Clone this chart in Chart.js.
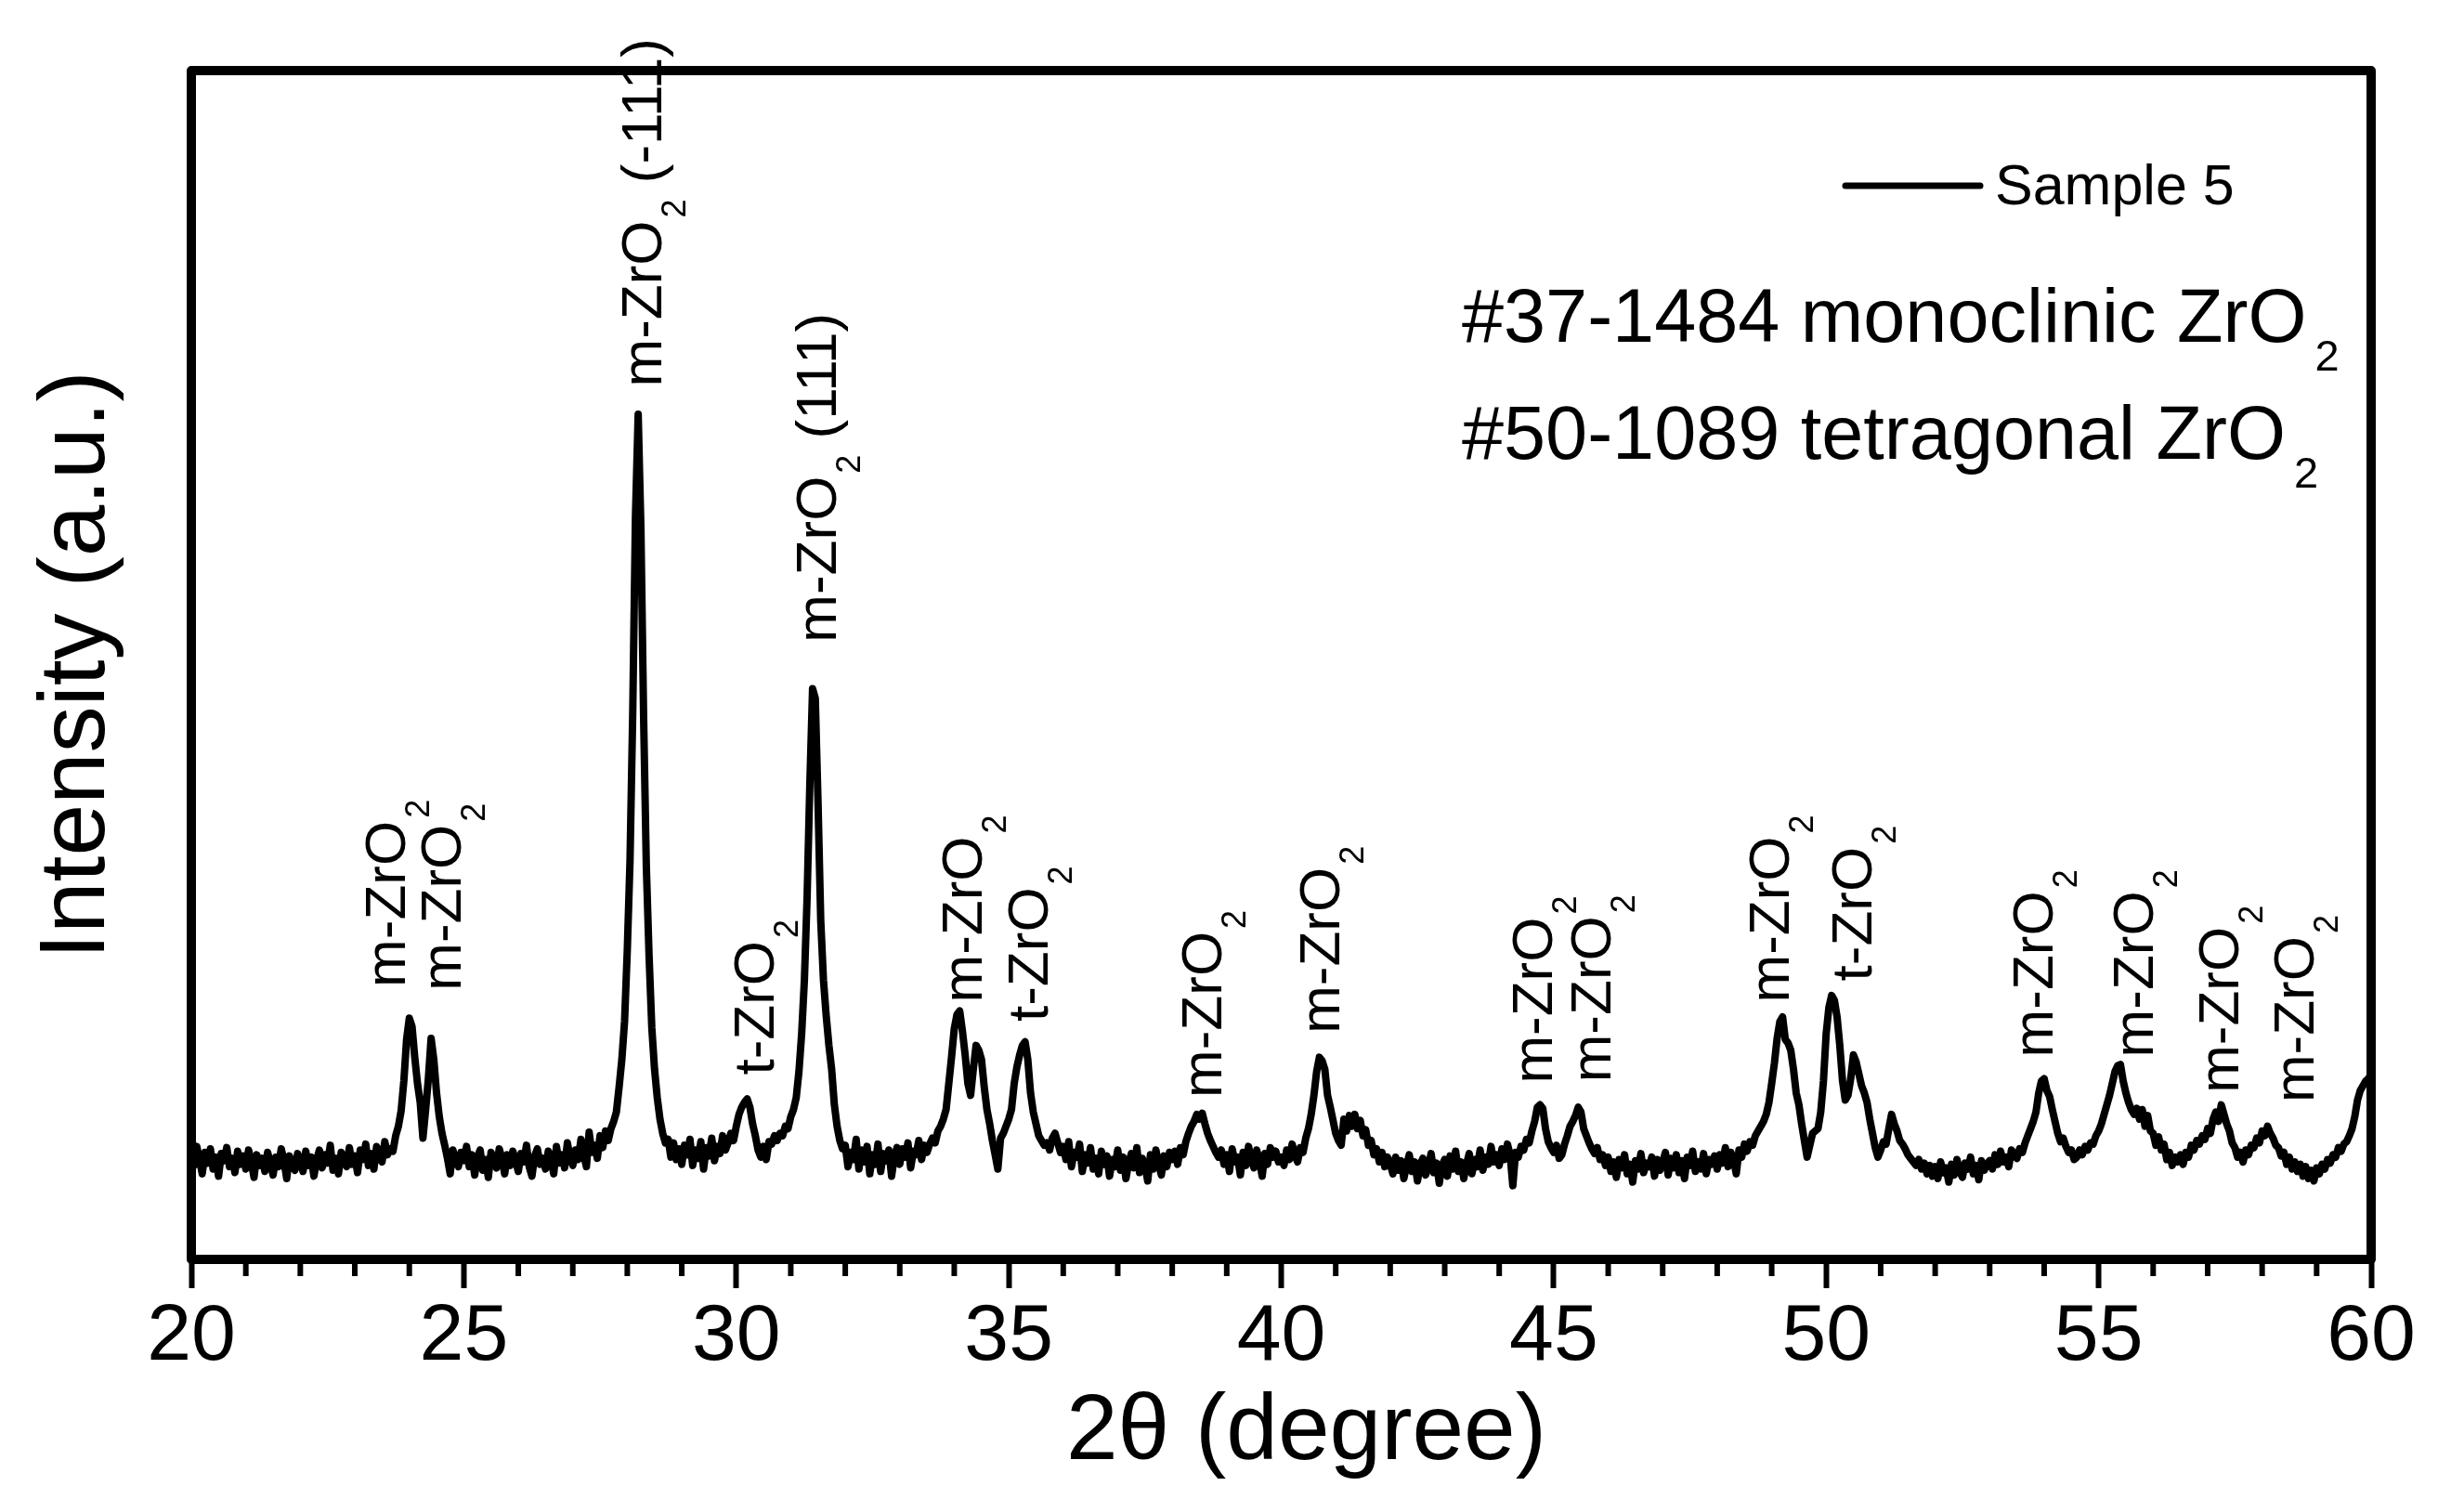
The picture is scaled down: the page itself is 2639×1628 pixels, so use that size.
<!DOCTYPE html>
<html>
<head>
<meta charset="utf-8">
<script src="https://cdn.jsdelivr.net/npm/chart.js@4.4.1/dist/chart.umd.min.js"></script>
<style>
  html, body { margin: 0; padding: 0; background: #fff; }
  canvas { display: block; }
</style>
</head>
<body>
<canvas id="xrdChart" width="2639" height="1628"></canvas>
<script>
// 2theta sampling of the scan
const thetaStart = 20;
const thetaStep = 0.05;

// intensity (a.u.), one array per 5 degrees
const intensity20 = [
  88, 79, 95, 84, 72, 90, 81, 93, 76, 86, 70, 89, 83, 94, 78, 85, 73, 91, 80, 87,
  76, 92, 82, 69, 88, 79, 85, 74, 90, 81, 71, 86, 78, 93, 83, 68, 87, 80, 75, 89,
  82, 74, 91, 79, 86, 70, 84, 92, 77, 88, 81, 96, 75, 85, 72, 90, 83, 78, 94, 80,
  87, 73, 92, 84, 97, 79, 89, 76, 95, 86, 82, 99, 88, 93, 91, 104, 112, 125, 150, 185,
  203, 196, 170, 148, 132, 102, 126, 152, 186, 168, 140, 120, 106, 96, 85, 72, 92, 84, 78, 90
];
const intensity25 = [
  83, 95, 78, 88, 71, 86, 92, 75, 84, 69, 90, 81, 77, 93, 85, 72, 88, 79, 91, 83,
  74, 89, 82, 96, 78, 70, 87, 93, 80, 85, 76, 91, 84, 72, 95, 81, 88, 77, 98, 86,
  79, 92, 84, 101, 88, 78, 107, 90, 96, 85, 104, 94, 108, 100, 110, 116, 124, 145, 168, 200,
  260, 335, 460, 625, 711, 615, 455, 330, 255, 195, 160, 136, 118, 106, 98, 101, 86, 98, 84, 93,
  80, 96, 88, 101, 79, 92, 85, 99, 76, 94, 87, 102, 83, 95, 89, 104, 92, 98, 106, 100
];
const intensity30 = [
  112, 122, 128, 132, 135, 128, 114, 104, 92, 86, 95, 84, 99, 97, 104, 100, 106, 104, 112, 110,
  120, 126, 136, 158, 190, 235, 305, 400, 480, 472, 385, 285, 235, 205, 180, 160, 130, 112, 100, 93,
  96, 78, 90, 84, 101, 76, 92, 82, 95, 72, 88, 80, 97, 74, 89, 83, 92, 70, 86, 94,
  80, 93, 86, 98, 77, 91, 88, 100, 84, 96, 90, 97, 102, 98, 108, 112, 118, 126, 148, 170,
  194, 206, 209, 192, 172, 148, 138, 160, 180, 176, 168, 145, 126, 114, 100, 88, 76, 102, 106, 112
];
const intensity35 = [
  118, 126, 148, 162, 172, 180, 183, 168, 140, 124, 114, 104, 100, 96, 98, 92, 102, 106, 98, 90,
  95, 84, 99, 78, 90, 86, 97, 74, 88, 81, 94, 76, 85, 72, 91, 80, 87, 70, 84, 78,
  92, 75, 86, 68, 81, 89, 77, 94, 73, 85, 79, 66, 88, 76, 92, 80, 71, 87, 78, 90,
  84, 91, 80, 94, 88, 99, 106, 112, 116, 122, 118, 123, 114, 106, 100, 95, 90, 86, 92, 80,
  88, 74, 93, 82, 86, 71, 90, 79, 95, 84, 77, 92, 83, 70, 89, 80, 94, 86, 91, 82
];
const intensity40 = [
  86, 79, 92, 84, 97, 88, 82, 94, 90, 102, 110, 122, 138, 158, 170, 167, 160, 138, 128, 117,
  106, 100, 96, 118, 108, 121, 112, 122, 110, 117, 104, 109, 96, 100, 88, 93, 82, 90, 78, 86,
  80, 72, 86, 75, 83, 68, 79, 88, 74, 82, 66, 80, 85, 71, 78, 89, 73, 81, 64, 79,
  84, 70, 87, 76, 91, 74, 82, 68, 80, 89, 72, 84, 78, 92, 75, 86, 80, 95, 82, 88,
  79, 93, 84, 97, 88, 62, 90, 86, 95, 92, 101, 98, 108, 116, 128, 130, 127, 110, 99, 94
];
const intensity45 = [
  90, 96, 85, 88, 97, 104, 112, 116, 121, 128, 124, 110, 104, 98, 93, 89, 94, 84, 88, 79,
  86, 74, 82, 69, 84, 77, 88, 72, 80, 65, 83, 76, 89, 73, 81, 78, 86, 70, 84, 75,
  82, 90, 71, 85, 77, 88, 73, 83, 68, 86, 79, 91, 74, 82, 76, 89, 72, 84, 80, 87,
  76, 88, 81, 94, 78, 90, 84, 72, 92, 86, 97, 91, 99, 96, 104, 108, 112, 116, 122, 132,
  148, 165, 186, 200, 204, 185, 182, 176, 160, 140, 130, 114, 100, 86, 96, 106, 108, 110, 124, 150
];
const intensity50 = [
  190, 212, 222, 218, 204, 180, 150, 134, 138, 152, 172, 166, 156, 146, 140, 132, 118, 106, 94, 86,
  92, 99, 97, 110, 122, 114, 108, 100, 97, 93, 88, 85, 82, 79, 84, 76, 81, 72, 79, 70,
  78, 68, 82, 73, 77, 65, 80, 71, 84, 74, 69, 81, 76, 86, 72, 79, 67, 83, 75, 80,
  83, 76, 88, 80, 91, 82, 86, 78, 92, 88, 85, 93, 90, 98, 104, 110, 116, 124, 140, 150,
  152, 142, 137, 126, 116, 106, 99, 102, 95, 90, 92, 84, 86, 92, 88, 95, 92, 98, 97, 104
];
const intensity55 = [
  108, 114, 122, 130, 138, 148, 158, 163, 164, 150, 140, 132, 126, 122, 127, 118, 126, 112, 121, 108,
  106, 96, 103, 92, 97, 84, 90, 79, 86, 82, 88, 80, 90, 86, 96, 92, 100, 97, 104, 101,
  110, 106, 118, 124, 116, 130, 122, 114, 108, 98, 94, 86, 90, 82, 92, 88, 96, 94, 102, 98,
  108, 104, 112, 106, 102, 96, 94, 87, 90, 80, 86, 76, 82, 74, 80, 70, 78, 68, 75, 66,
  77, 72, 80, 76, 84, 81, 88, 86, 94, 91, 97, 99, 104, 110, 120, 134, 142, 146, 150, 152,
  156
];

// x axis ticks
const xMajorTicks = [20, 25, 30, 35, 40, 45, 50, 55, 60];
const xMinorTicks = [21, 22, 23, 24, 26, 27, 28, 29, 31, 32, 33, 34, 36, 37, 38, 39,
                     41, 42, 43, 44, 46, 47, 48, 49, 51, 52, 53, 54, 56, 57, 58, 59];

// peak labels: where the rotated text starts (2theta, intensity), phase and plane
const peakLabelTheta = [23.92, 24.94, 28.63, 30.68, 31.83, 34.50, 35.72, 38.90, 41.06,
                        44.97, 46.04, 49.31, 50.83, 54.16, 56.00, 57.56, 58.95];
const peakLabelLevel = [229, 226, 734, 155, 519, 216, 200, 136, 190,
                        148, 149, 216, 234, 170, 170, 140, 132];
const peakLabelPhase = ['m', 'm', 'm', 't', 'm', 'm', 't', 'm', 'm',
                        'm', 'm', 'm', 't', 'm', 'm', 'm', 'm'];
const peakLabelPlane = ['', '', ' (-111)', '', ' (111)', '', '', '', '',
                        '', '', '', '', '', '', '', ''];

const pdfCards = ['#37-1484 monoclinic ZrO', '#50-1089 tetragonal ZrO'];
const seriesName = 'Sample 5';
const xTitle = '2θ (degree)';
const yTitle = 'Intensity (a.u.)';

const FONT = "'Liberation Sans', Arial, Helvetica, sans-serif";

const intensity = [].concat(intensity20, intensity25, intensity30, intensity35,
                            intensity40, intensity45, intensity50, intensity55);
const points = intensity.map((v, i) => ({ x: +(thetaStart + i * thetaStep).toFixed(2), y: v }));

// writes "<main>", a subscript 2, then "<tail>", baseline at y = 0
function drawFormula(ctx, main, tail, size, subSize, subShift, gap) {
    ctx.font = size + 'px ' + FONT;
    ctx.fillText(main, 0, 0);
    const w = ctx.measureText(main).width;
    ctx.font = subSize + 'px ' + FONT;
    ctx.fillText('2', w + gap, subShift);
    const sw = ctx.measureText('2').width;
    if (tail) {
        ctx.font = size + 'px ' + FONT;
        ctx.fillText(tail, w + gap + sw, 0);
    }
}

const decorations = {
    id: 'decorations',
    afterDraw(chart) {
        const { ctx, chartArea: a, scales: { x, y } } = chart;
        ctx.save();
        ctx.strokeStyle = '#000';
        ctx.fillStyle = '#000';

        // minor ticks
        ctx.lineWidth = 6;
        xMinorTicks.forEach(v => {
            const px = x.getPixelForValue(v);
            ctx.beginPath();
            ctx.moveTo(px, a.bottom);
            ctx.lineTo(px, a.bottom + 18);
            ctx.stroke();
        });

        // box around the plot
        ctx.lineWidth = 10;
        ctx.lineJoin = 'round';
        ctx.strokeRect(a.left, a.top, a.right - a.left, a.bottom - a.top);

        // x axis title
        ctx.font = '100px ' + FONT;
        ctx.textAlign = 'center';
        ctx.textBaseline = 'middle';
        ctx.fillText(xTitle, (a.left + a.right) / 2 + 27, 1543);

        // peak assignments
        ctx.textAlign = 'left';
        ctx.textBaseline = 'alphabetic';
        peakLabelTheta.forEach((t, i) => {
            ctx.save();
            ctx.translate(x.getPixelForValue(t), y.getPixelForValue(peakLabelLevel[i]));
            ctx.rotate(-Math.PI / 2);
            drawFormula(ctx, peakLabelPhase[i] + '-ZrO', peakLabelPlane[i], 62, 36, 26, 3);
            ctx.restore();
        });

        // legend
        ctx.lineWidth = 7;
        ctx.lineCap = 'round';
        ctx.beginPath();
        ctx.moveTo(1987, 200);
        ctx.lineTo(2132, 200);
        ctx.stroke();
        ctx.font = '61px ' + FONT;
        ctx.fillText(seriesName, 2148, 220);

        // reference cards
        pdfCards.forEach((txt, i) => {
            ctx.save();
            ctx.translate(1574, 368 + i * 126);
            ctx.font = '81px ' + FONT;
            ctx.fillText(txt, 0, 0);
            const w = ctx.measureText(txt).width;
            ctx.font = '47px ' + FONT;
            ctx.fillText('2', w + 9, 31);
            ctx.restore();
        });
        ctx.restore();
    }
};

new Chart(document.getElementById('xrdChart'), {
    type: 'line',
    data: {
        datasets: [{
            label: seriesName,
            data: points,
            borderColor: '#000',
            borderWidth: 8,
            borderJoinStyle: 'round',
            borderCapStyle: 'round',
            pointRadius: 0,
            tension: 0,
            fill: false
        }]
    },
    options: {
        responsive: false,
        animation: false,
        devicePixelRatio: 1,
        events: [],
        layout: { padding: { left: 20, right: 86, top: 76, bottom: 135 } },
        plugins: {
            legend: { display: false },
            tooltip: { enabled: false }
        },
        scales: {
            x: {
                type: 'linear',
                min: 20,
                max: 60,
                afterBuildTicks: scale => { scale.ticks = xMajorTicks.map(v => ({ value: v })); },
                ticks: {
                    color: '#000',
                    font: { size: 86, family: FONT, lineHeight: 1 },
                    padding: 10,
                    maxRotation: 0,
                    autoSkip: false
                },
                grid: {
                    drawOnChartArea: false,
                    drawTicks: true,
                    tickLength: 31,
                    tickWidth: 6,
                    tickColor: '#000'
                },
                border: { display: false },
                title: { display: false }
            },
            y: {
                min: 0,
                max: 1000,
                ticks: { display: false },
                grid: { display: false, drawTicks: false },
                border: { display: false },
                title: {
                    display: true,
                    text: yTitle,
                    color: '#000',
                    font: { size: 100, family: FONT, lineHeight: 1 },
                    padding: { top: 14, bottom: 72 }
                }
            }
        }
    },
    plugins: [decorations]
});
</script>
</body>
</html>
